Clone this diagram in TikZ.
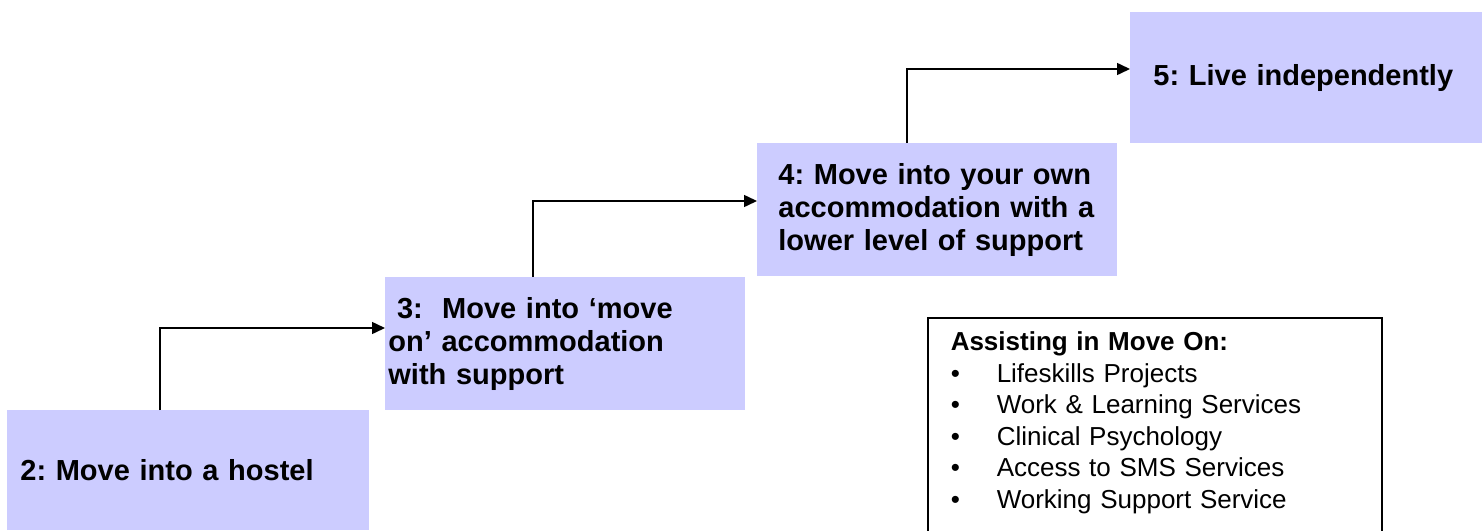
\documentclass[tikz,border=0pt]{standalone}
\usepackage{fontspec}
\setmainfont{Liberation Sans}
\usepackage{xcolor}
\usetikzlibrary{arrows.meta,positioning,shapes}
\definecolor{stepfill}{RGB}{204,204,255}
\frenchspacing

\begin{document}
\begin{tikzpicture}[x=0.5pt, y=-0.5pt]
    \clip (0,0) rectangle (1482,530);
    \tikzset{
        stepbox/.style={rectangle, fill=stepfill, anchor=north west, align=left,
            inner ysep=0pt, font=\bfseries\fontsize{14.5}{16.4}\selectfont},
        steparrow/.style={-{Triangle[length=6.5pt,width=6pt]}, line width=0.75pt},
    }

    % stufen
    \node[stepbox, inner xsep=6.5pt, text width=168pt, minimum height=60pt] (b2) at (7,410)
        {2: Move into a hostel};
    \node[stepbox, inner xsep=1.5pt, text width=177pt, minimum height=66.5pt] (b3) at (385,277)
        {\hspace*{0.3em}3:\ \ Move into ‘move\\on’ accommodation\\with support};
    \node[stepbox, inner xsep=10.5pt, text width=159pt, minimum height=66.5pt] (b4) at (757,143)
        {4: Move into your own\\accommodation with a\\lower level of support};
    \node[stepbox, inner xsep=11.5pt, text width=157pt, minimum height=65.5pt] (b5) at (1130,12)
        {5: Live independently};

    % pfeile
    \draw[steparrow] ([xshift=76.5pt]b2.north west) |- ([yshift=-25.5pt]b3.north west);
    \draw[steparrow] ([xshift=74pt]b3.north west) |- ([yshift=-29pt]b4.north west);
    \draw[steparrow] ([xshift=75pt]b4.north west) |- ([yshift=-28.5pt]b5.north west);

    % hilfen
    \node[draw, line width=0.75pt, anchor=north west, align=left, inner xsep=11.5pt,
        inner ysep=7pt, text width=204pt, text depth=92pt,
        font=\fontsize{13}{15.8}\selectfont] (help) at (927,317)
        {\textbf{Assisting in Move On:}\\
         \makebox[23pt][l]{\textbullet}Lifeskills Projects\\
         \makebox[23pt][l]{\textbullet}Work \& Learning Services\\
         \makebox[23pt][l]{\textbullet}Clinical Psychology\\
         \makebox[23pt][l]{\textbullet}Access to SMS Services\\
         \makebox[23pt][l]{\textbullet}Working Support Service};
\end{tikzpicture}
\end{document}
